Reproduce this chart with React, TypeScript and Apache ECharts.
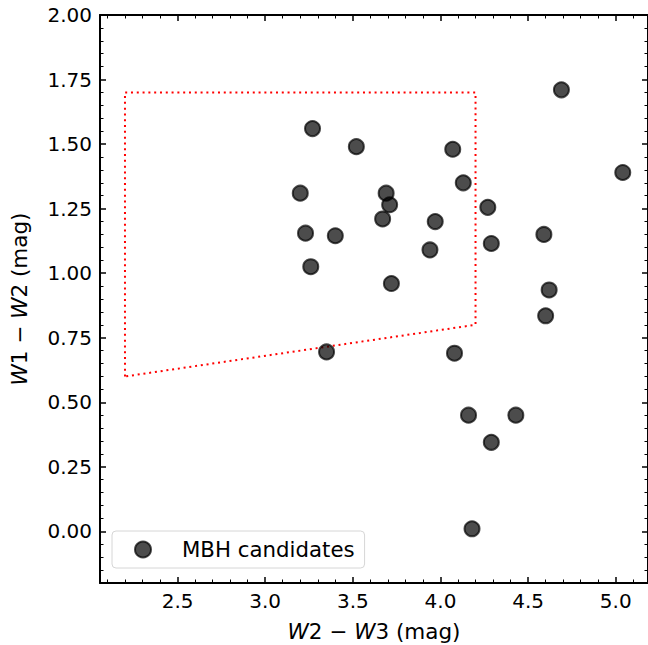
import React, { useEffect, useRef } from "react";
import * as echarts from "echarts";

const candidatesX = [4.69, 3.27, 3.52, 4.07, 5.04, 4.13, 3.2, 3.69, 3.71, 4.27, 3.67, 3.97, 3.23, 3.4, 4.59, 4.29, 3.94, 3.26, 3.72, 4.62, 4.6, 3.35, 4.08, 4.16, 4.43, 4.29, 4.18];
const candidatesY = [1.71, 1.56, 1.49, 1.48, 1.39, 1.35, 1.31, 1.31, 1.265, 1.255, 1.21, 1.2, 1.155, 1.145, 1.15, 1.115, 1.09, 1.025, 0.96, 0.935, 0.835, 0.695, 0.69, 0.45, 0.45, 0.345, 0.01];
const regionX = [2.2, 2.2, 4.2, 4.2, 2.2];
const regionY = [0.6, 1.7, 1.7, 0.8, 0.6];
const xRange = [2.0575, 5.184];
const yRange = [-0.2, 2.0];
const xStep = 0.5;
const yStep = 0.25;
const seriesName = "MBH candidates";

const FONT = "DejaVu Sans";

function isMultiple(v: number, step: number) {
  const r = v / step;
  return Math.abs(r - Math.round(r)) < 1e-6;
}

export default function App() {
  const ref = useRef<HTMLDivElement>(null);
  useEffect(() => {
    if (!ref.current) return;
    const chart = echarts.init(ref.current, undefined, { renderer: "svg" });
    const axisCommon = (step: number, fmt: (v: number) => string) => ({
      type: "value" as const,
      minInterval: step,
      maxInterval: step,
      axisLine: { show: true, onZero: false, lineStyle: { color: "#000", width: 2 } },
      axisTick: { show: true, inside: true, length: 6, lineStyle: { color: "#000", width: 1.5 } },
      minorTick: { show: true, splitNumber: 5, length: 3.5, lineStyle: { color: "#000", width: 1 } },
      splitLine: { show: false },
      minorSplitLine: { show: false },
      axisLabel: {
        show: true,
        color: "#000",
        fontFamily: FONT,
        fontSize: 20,
        margin: 8,
        showMinLabel: true,
        showMaxLabel: true,
        formatter: (v: number) => (isMultiple(v, step) ? fmt(v) : ""),
      },
    });
    const xFmt = (v: number) => v.toFixed(1);
    const yFmt = (v: number) => v.toFixed(2);
    const nameStyle = {
      color: "#000",
      fontFamily: FONT,
      fontSize: 21.5,
      rich: { i: { fontStyle: "italic", fontFamily: FONT, fontSize: 21.5, color: "#000" } },
    };
    chart.setOption({
      animation: false,
      backgroundColor: "#fff",
      grid: { left: 100, top: 15, width: 548, height: 568, containLabel: false, outerBoundsMode: "none" },
      xAxis: [
        {
          ...axisCommon(xStep, xFmt),
          min: xRange[0],
          max: xRange[1],
          position: "bottom",
          name: "{i|W}2 \u2212 {i|W}3 (mag)",
          nameLocation: "middle",
          nameGap: 37,
          nameTextStyle: nameStyle,
        },
        {
          ...axisCommon(xStep, xFmt),
          min: xRange[0],
          max: xRange[1],
          position: "top",
          axisLabel: { show: false },
        },
      ],
      yAxis: [
        {
          ...axisCommon(yStep, yFmt),
          min: yRange[0],
          max: yRange[1],
          position: "left",
          name: "{i|W}1 \u2212 {i|W}2 (mag)",
          nameLocation: "middle",
          nameGap: 70,
          nameTextStyle: nameStyle,
        },
        {
          ...axisCommon(yStep, yFmt),
          min: yRange[0],
          max: yRange[1],
          position: "right",
          axisLabel: { show: false },
        },
      ],
      legend: {
        show: true,
        data: [seriesName],
        left: 112,
        top: 531,
        orient: "horizontal",
        padding: [8, 10, 8, 22],
        itemWidth: 16,
        itemHeight: 16,
        borderColor: "#d6d6d6",
        borderWidth: 1,
        borderRadius: 4,
        backgroundColor: "rgba(255,255,255,0.8)",
        textStyle: { color: "#000", fontFamily: FONT, fontSize: 21.3, padding: [0, 0, 0, 26] },
      },
      series: [
        {
          name: "region",
          type: "line",
          xAxisIndex: 0,
          yAxisIndex: 0,
          data: regionX.map((x, i) => [x, regionY[i]]),
          symbol: "none",
          lineStyle: { color: "#ff0000", width: 2, type: [2, 3.8] },
          silent: true,
          z: 1,
        },
        {
          name: seriesName,
          type: "scatter",
          xAxisIndex: 0,
          yAxisIndex: 0,
          data: candidatesX.map((x, i) => [x, candidatesY[i]]),
          symbol: "circle",
          symbolSize: 15,
          itemStyle: { color: "#000", borderColor: "#000", borderWidth: 2, opacity: 0.7 },
          z: 2,
        },
      ],
    });
    return () => chart.dispose();
  }, []);
  return (
    <div
      ref={ref}
      style={{ position: "fixed", left: 0, top: 0, width: 648, height: 645, background: "#fff" }}
    />
  );
}
